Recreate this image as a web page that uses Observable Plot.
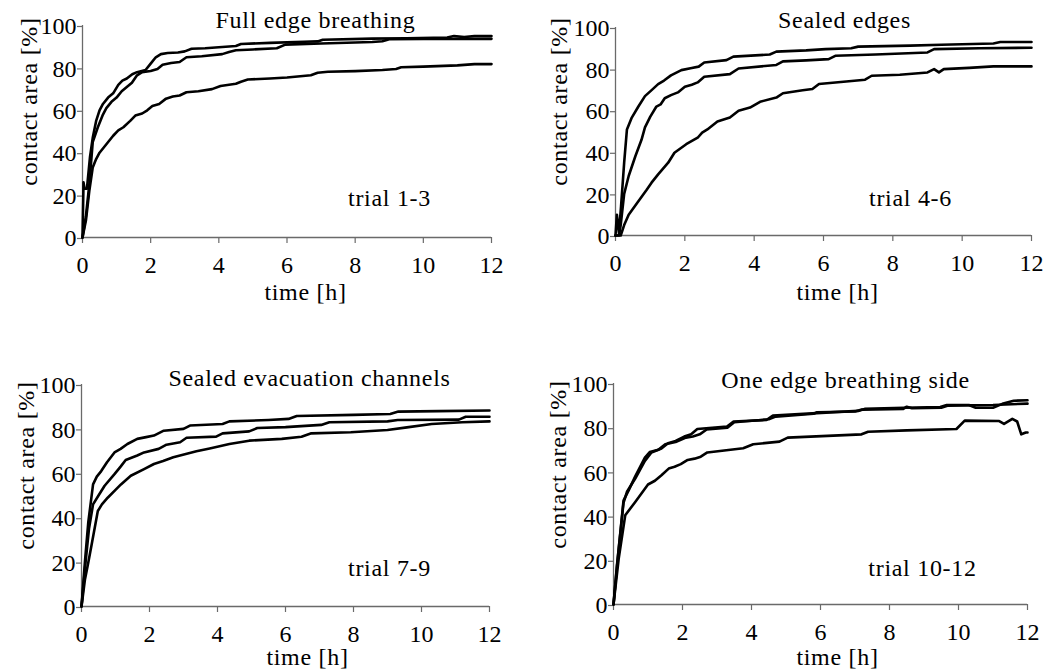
<!DOCTYPE html>
<html>
<head>
<meta charset="utf-8">
<script src="https://cdn.jsdelivr.net/npm/d3@7"></script>
<script src="https://cdn.jsdelivr.net/npm/@observablehq/plot@0.6"></script>
<style>
  html, body { margin: 0; padding: 0; background: #fff; }
  #wrap { position: relative; width: 1061px; height: 671px; background: #fff; overflow: hidden; }
  #wrap svg { position: absolute; }
</style>
</head>
<body>
<div id="wrap"></div>
<script>
// ---- tick values ----
const xTicks = [0, 2, 4, 6, 8, 10, 12];
const yTicks = [0, 20, 40, 60, 80, 100];

// ---- labels ----
const titles = ["Full edge breathing", "Sealed edges", "Sealed evacuation channels", "One edge breathing side"];
const trialLabels = ["trial 1-3", "trial 4-6", "trial 7-9", "trial 10-12"];
const xLabel = "time [h]";
const yLabel = "contact area [%]";

// ---- data: [time h, contact area %] ----
// Panel 1: Full edge breathing
const p1a = [[0,0],[0.03,26],[0.06,23],[0.13,23],[0.22,38],[0.3,47],[0.4,55],[0.5,60],[0.6,63],[0.75,66],[0.9,68],[1.05,72],[1.17,74],[1.3,75],[1.46,77],[1.6,78],[1.85,79],[2.0,82],[2.15,85],[2.3,86.5],[2.5,87],[2.8,87.3],[3.0,87.8],[3.2,89],[3.6,89.3],[4.2,90],[4.5,90.3],[4.65,91.3],[5.5,91.8],[6.5,92.3],[6.9,92.5],[7.05,93.3],[8.5,93.8],[9.5,94],[10.7,94.3],[10.9,95],[11.2,94.6],[11.5,95],[12,95]];
const p1b = [[0,0],[0.1,10],[0.2,25],[0.3,45],[0.45,52],[0.6,58],[0.7,61],[0.85,64],[1.0,66],[1.15,69],[1.3,71],[1.45,73],[1.6,76.5],[1.75,78],[2.0,78.5],[2.2,79.5],[2.35,81.5],[2.6,82.3],[2.85,82.8],[3.05,85],[3.5,85.5],[4.1,86.5],[4.3,87.5],[4.5,88.3],[5.0,88.7],[5.7,89.3],[5.95,91],[7,91.5],[8.5,92.2],[8.8,92.6],[9.0,93.5],[10,93.6],[12,93.7]];
const p1c = [[0,0],[0.1,8],[0.2,22],[0.3,33],[0.4,37],[0.5,40],[0.7,44],[0.9,48],[1.05,50.5],[1.2,52],[1.4,55],[1.55,57.5],[1.75,58.5],[1.9,60],[2.05,62],[2.25,63],[2.45,65.5],[2.65,66.5],[2.85,67],[3.05,68.5],[3.4,69],[3.8,70],[4.05,71.5],[4.5,72.5],[4.65,73.5],[4.85,74.5],[5.5,75],[6.0,75.5],[6.7,76.5],[6.9,77.7],[7.2,78.2],[8.0,78.5],[8.8,79],[9.2,79.5],[9.35,80.3],[10,80.6],[11,81.2],[11.5,81.8],[12,81.8]];

// Panel 2: Sealed edges
const p2a = [[0,0],[0.04,10],[0.1,1],[0.16,14],[0.25,35],[0.33,51],[0.47,56.7],[0.66,62],[0.85,67],[1.05,70],[1.23,72.8],[1.4,74.5],[1.6,77],[1.9,79.5],[2.2,80.5],[2.4,81.2],[2.56,83.2],[3.2,84.3],[3.4,86],[4.45,87],[4.64,88.4],[5.5,89],[6.06,89.6],[6.8,90],[7.0,90.8],[8.5,91.3],[9.4,91.7],[10.9,92.3],[11.1,93],[12,93]];
const p2b = [[0,0],[0.1,0],[0.15,5],[0.25,20],[0.38,28.6],[0.57,38],[0.75,46],[0.85,52],[1.0,57],[1.18,62],[1.3,63],[1.42,66],[1.6,67.5],[1.8,68.8],[2.0,71.5],[2.2,72.5],[2.37,73.6],[2.56,76.3],[3.3,77.6],[3.55,80.3],[4.64,82],[4.83,83.7],[5.5,84.2],[6.15,84.8],[6.34,86.4],[7.5,87],[9.0,88],[9.19,89.6],[10.5,90],[12,90.3]];
const p2c = [[0,0],[0.15,0],[0.25,5],[0.38,10],[0.66,16.5],[0.9,22],[1.04,25.4],[1.23,29.4],[1.52,35],[1.7,39.8],[2.04,43.9],[2.37,47],[2.5,49.5],[2.65,51],[2.94,54.8],[3.3,56.7],[3.55,60],[3.88,61.5],[4.17,64.3],[4.64,66.3],[4.83,68.4],[5.4,69.8],[5.68,70.4],[5.87,72.8],[6.5,73.8],[7.2,74.9],[7.39,76.8],[8.2,77.3],[9.0,78.4],[9.19,80],[9.33,78.4],[9.47,80],[10.2,80.6],[10.9,81.3],[12,81.3]];

// Panel 3: Sealed evacuation channels
const p3a = [[0,0],[0.1,20],[0.2,38],[0.34,55],[0.45,58.5],[0.58,61],[0.75,65],[0.97,69.4],[1.15,71],[1.35,73.2],[1.64,75.5],[1.9,76.3],[2.13,77],[2.42,79.2],[3.0,80],[3.19,81.5],[4.15,82.2],[4.35,83.4],[5.5,84],[6.09,84.5],[6.33,85.8],[8,86.3],[9.08,86.7],[9.32,87.8],[10.5,88],[12,88.3]];
const p3b = [[0,0],[0.12,20],[0.22,35],[0.34,46],[0.5,50],[0.68,54.4],[0.97,59.6],[1.15,63],[1.3,66],[1.64,68],[1.84,69.4],[2.27,71],[2.5,72.9],[2.9,74],[3.09,76],[3.96,76.5],[4.15,78],[4.93,78.9],[5.17,80.4],[6,80.8],[7.05,81.8],[7.29,83],[9,83.4],[9.3,84],[11.1,84.2],[11.3,85.5],[12,85.5]];
const p3c = [[0,0],[0.1,12],[0.19,19],[0.3,28],[0.48,43],[0.6,46],[0.77,49],[1.0,52.5],[1.16,55],[1.45,58.9],[1.84,61.9],[2.13,64.2],[2.4,65.5],[2.7,67.2],[3.38,69.9],[3.77,71.2],[4.35,73.2],[4.93,74.7],[5.89,75.5],[6.47,76.5],[6.76,78],[7.92,78.5],[9,79.5],[9.57,80.7],[10.3,82.2],[11.2,83],[12,83.4]];

// Panel 4: One edge breathing side
const p4a = [[0,0],[0.1,17.7],[0.29,46],[0.39,51],[0.63,57],[0.91,65],[1.1,68.8],[1.39,70.6],[1.58,73],[1.8,74],[2.05,76],[2.25,77],[2.43,79.4],[3.29,80.5],[3.48,82.8],[4.43,83.5],[4.62,85.5],[5.76,86.5],[7.09,87.6],[7.28,88.5],[8.42,89],[9.47,89.4],[9.66,90.3],[10.3,90.3],[10.5,89],[11,89],[11.27,90.8],[11.6,92.2],[12,92.4]];
const p4b = [[0,0],[0.1,17],[0.29,47],[0.45,52],[0.63,58],[0.91,66.5],[1.05,69],[1.3,70],[1.5,72.5],[1.8,73.5],[2.1,75.5],[2.3,76],[2.5,77],[2.7,79.2],[3.3,80],[3.5,82.5],[4.5,83.8],[4.7,85],[5.8,86.3],[5.9,87],[7,87.3],[7.2,88.2],[8.4,88.5],[8.5,89.5],[8.65,88.8],[9.5,89],[9.7,90],[11,90.3],[12,90.9]];
const p4c = [[0,0],[0.15,20.7],[0.34,40.4],[0.63,46.4],[1.0,54.3],[1.2,56],[1.39,58.5],[1.6,61.5],[1.77,62.3],[1.95,63.5],[2.15,65.4],[2.35,66],[2.53,66.9],[2.72,68.8],[3.76,70.7],[4.05,72.5],[4.81,73.7],[5.05,75.5],[7.19,77],[7.38,78.2],[8.5,78.8],[9.94,79.4],[10.18,83.2],[11.18,83],[11.32,81.7],[11.56,84],[11.7,82.8],[11.82,77],[11.95,77.8],[12,77.8]];

const panelSeries = [[p1a, p1b, p1c], [p2a, p2b, p2c], [p3a, p3b, p3c], [p4a, p4b, p4c]];

// ---- layout (svg box + margins + text offsets relative to frame top-left) ----
const layout = [
  {left: 0,   top: 0,   w: 530, h: 335, ml: 82, mr: 39, mt: 25, mb: 98,
   title: [233, -5], trial: [307, 173], ylab: [-53, 76], xlab: [223, 267]},
  {left: 530, top: 0,   w: 531, h: 335, ml: 85, mr: 30, mt: 27, mb: 100,
   title: [229, -7], trial: [295, 171], ylab: [-56, 74], xlab: [222, 265]},
  {left: 0,   top: 335, w: 530, h: 336, ml: 81, mr: 41, mt: 49, mb: 65,
   title: [228, -6], trial: [308, 184], ylab: [-55, 81], xlab: [226, 273]},
  {left: 530, top: 335, w: 531, h: 336, ml: 83, mr: 34, mt: 48, mb: 67,
   title: [232, -3], trial: [309, 185], ylab: [-55, 81], xlab: [224, 274]}
];

const wrap = document.getElementById("wrap");
const axisGray = "#6a6a6a";
const serif = "Liberation Serif";

panelSeries.forEach((series, i) => {
  const L = layout[i];
  const rows = series.flatMap((s, k) => s.map(([t, v]) => ({t, v, trial: k})));
  const label = (txt, [dx, dy], extra = {}) =>
    Plot.text([txt], {text: d => d, frameAnchor: "top-left", dx, dy, fontFamily: serif,
      textAnchor: "middle", lineAnchor: "middle", fontSize: 24, fill: "black", ...extra});
  const svg = Plot.plot({
    width: L.w, height: L.h,
    marginLeft: L.ml, marginRight: L.mr, marginTop: L.mt, marginBottom: L.mb,
    x: {domain: [0, 12]},
    y: {domain: [0, 100]},
    marks: [
      Plot.axisX(xTicks, {tickSize: 6, tickPadding: 12, stroke: axisGray, strokeWidth: 1.2, label: null, fontSize: 24, fontFamily: serif, fill: "black"}),
      Plot.axisY(yTicks, {tickSize: 5, tickPadding: 1, stroke: axisGray, strokeWidth: 1.2, label: null, fontSize: 24, fontFamily: serif, fill: "black", dy: 1}),
      Plot.ruleX([0], {stroke: axisGray, strokeWidth: 1.3}),
      Plot.ruleY([0], {stroke: axisGray, strokeWidth: 1.3}),
      Plot.line(rows, {x: "t", y: "v", z: "trial", stroke: "black", strokeWidth: 2.6, strokeLinejoin: "round", strokeLinecap: "round"}),
      label(titles[i], L.title),
      label(trialLabels[i], L.trial),
      label(xLabel, L.xlab),
      label(yLabel, L.ylab, {rotate: -90})
    ]
  });
  svg.setAttribute("font-family", serif);
  svg.style.left = L.left + "px";
  svg.style.top = L.top + "px";
  svg.style.background = "transparent";
  svg.style.overflow = "visible";
  svg.querySelectorAll('g[aria-label="text"] text').forEach(t => t.style.letterSpacing = "0.7px");
  wrap.appendChild(svg);
});
</script>
</body>
</html>
